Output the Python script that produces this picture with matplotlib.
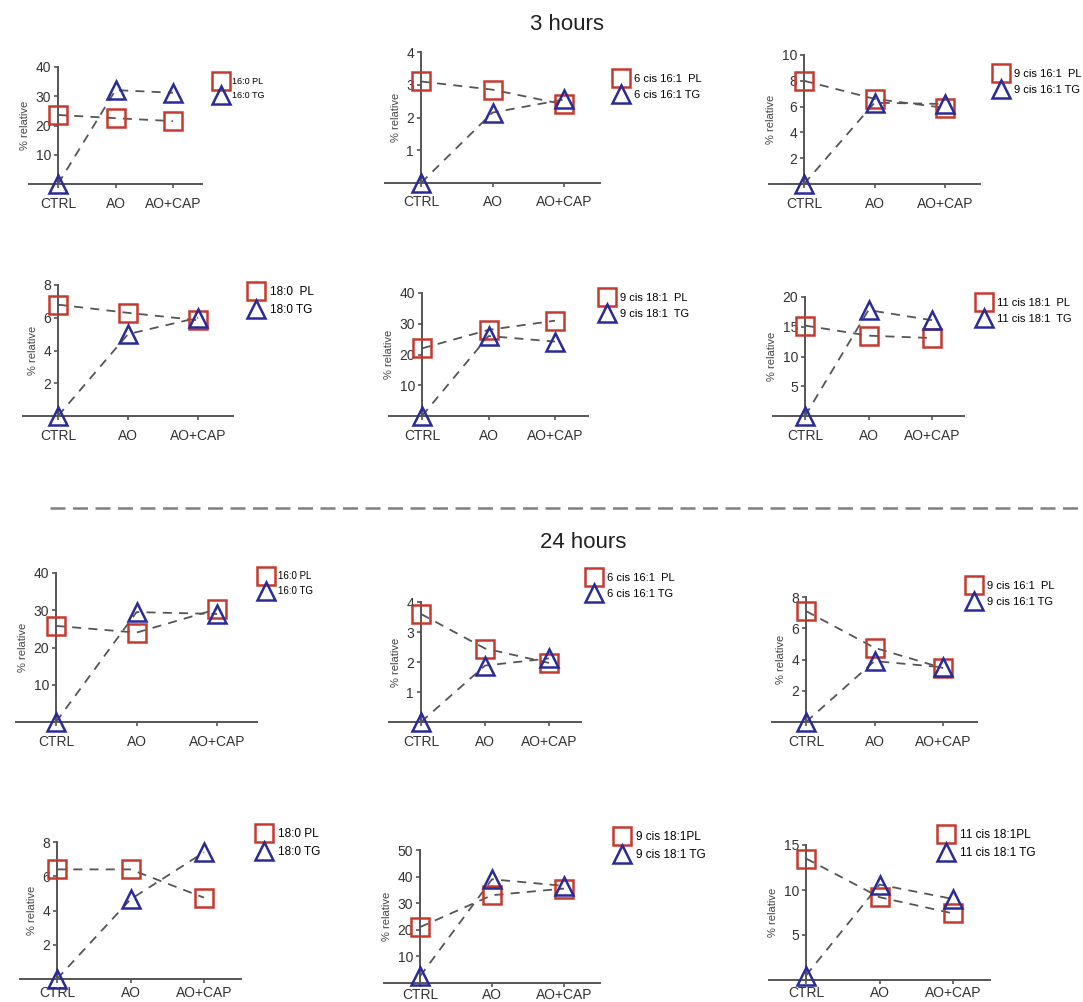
import numpy as np
import matplotlib.pyplot as plt
from matplotlib.lines import Line2D

plt.rcParams['font.family'] = ['Liberation Sans', 'DejaVu Sans']

groups = ["CTRL", "AO", "AO+CAP"]

# ── 3 hours ──────────────────────────────────────────────
pl_160_3h = [23.6, 22.5, 21.5]
tg_160_3h = [0, 32.1, 31.2]
pl_6c161_3h = [3.1, 2.85, 2.4]
tg_6c161_3h = [0, 2.15, 2.55]
pl_9c161_3h = [8.0, 6.6, 5.9]
tg_9c161_3h = [0, 6.3, 6.2]
pl_180_3h = [6.8, 6.3, 5.85]
tg_180_3h = [0, 5.0, 6.0]
pl_9c181_3h = [22, 28, 31]
tg_9c181_3h = [0, 26, 24.2]
pl_11c181_3h = [15.2, 13.5, 13.1]
tg_11c181_3h = [0, 17.8, 16.1]

# ── 24 hours ─────────────────────────────────────────────
pl_160_24h = [25.8, 24.0, 30.3]
tg_160_24h = [0, 29.5, 29.0]
pl_6c161_24h = [3.6, 2.45, 1.97]
tg_6c161_24h = [0, 1.88, 2.12]
pl_9c161_24h = [7.1, 4.75, 3.45]
tg_9c161_24h = [0, 3.9, 3.5]
pl_180_24h = [6.4, 6.4, 4.75]
tg_180_24h = [0, 4.65, 7.4]
pl_9c181_24h = [21, 33, 35.5]
tg_9c181_24h = [2.5, 39, 36.5]
pl_11c181_24h = [13.5, 9.2, 7.4]
tg_11c181_24h = [0.5, 10.6, 9.0]

panels = [
    (pl_160_3h, tg_160_3h, "16:0 PL", "16:0 TG", 40, 10),
    (pl_6c161_3h, tg_6c161_3h, "6 cis 16:1  PL", "6 cis 16:1 TG", 4, 1),
    (pl_9c161_3h, tg_9c161_3h, "9 cis 16:1  PL", "9 cis 16:1 TG", 10, 2),
    (pl_180_3h, tg_180_3h, "18:0  PL", "18:0 TG", 8, 2),
    (pl_9c181_3h, tg_9c181_3h, "9 cis 18:1  PL", "9 cis 18:1  TG", 40, 10),
    (pl_11c181_3h, tg_11c181_3h, "11 cis 18:1  PL", "11 cis 18:1  TG", 20, 5),
    (pl_160_24h, tg_160_24h, "16:0 PL", "16:0 TG", 40, 10),
    (pl_6c161_24h, tg_6c161_24h, "6 cis 16:1  PL", "6 cis 16:1 TG", 4, 1),
    (pl_9c161_24h, tg_9c161_24h, "9 cis 16:1  PL", "9 cis 16:1 TG", 8, 2),
    (pl_180_24h, tg_180_24h, "18:0 PL", "18:0 TG", 8, 2),
    (pl_9c181_24h, tg_9c181_24h, "9 cis 18:1PL", "9 cis 18:1 TG", 50, 10),
    (pl_11c181_24h, tg_11c181_24h, "11 cis 18:1PL", "11 cis 18:1 TG", 15, 5),
]

# layout in pixels: CTRL x, AO+CAP x, y of zero, y of top tick,
# legend marker x, legend first row y, legend font size, x label pad
layout = [
    (58, 173, 184, 67, 224, 86, 6.5, 6),
    (421, 564, 183, 52, 622, 83, 8, 6),
    (804, 945, 184, 55, 1002, 78, 8, 6),
    (58, 198, 416, 285, 257, 295, 8.5, 6),
    (422, 555, 416, 293, 608, 302, 8, 6),
    (805, 932, 416, 297, 985, 307, 8, 6),
    (56, 217, 722, 573, 268, 580, 7, 6),
    (421, 549, 722, 602, 595, 582, 8, 6),
    (806, 943, 722, 597, 975, 590, 8, 6),
    (57, 204, 979, 842, 265, 837, 8.5, 2),
    (420, 564, 983, 850, 623, 840, 8.5, 0.5),
    (806, 953, 980, 845, 947, 838, 8.5, 1.5),
]

RED = "#c53a2f"
BLUE = "#2b2b98"
GREY = "#555555"

W, H = 1083, 1002
fig = plt.figure(figsize=(W / 100, H / 100), dpi=100)
x = np.arange(len(groups))

for (pl, tg, pl_lab, tg_lab, ymax, ystep), (cx, capx, y0, ytop, lx, ly, lfs, xpad) in zip(panels, layout):
    sp = (capx - cx) / 2
    ax = fig.add_axes([(cx - 0.5 * sp) / W, 1 - y0 / H, 3 * sp / W, (y0 - ytop) / H])

    ax.plot(x, pl, ls=(0, (5, 4)), color=GREY, lw=1.3, zorder=1)
    ax.plot(x, tg, ls=(0, (5, 4)), color=GREY, lw=1.3, zorder=1)
    ax.plot(x, pl, ls="none", marker="s", ms=12.5, mfc="none", mec=RED,
            mew=1.8, clip_on=False, zorder=3, label=pl_lab)
    ax.plot(x, tg, ls="none", marker="^", ms=13, mfc="none", mec=BLUE,
            mew=1.8, clip_on=False, zorder=3, label=tg_lab)

    ax.set_xlim(-0.5, 2.5)
    ax.set_ylim(0, ymax)
    for s in ["top", "right"]:
        ax.spines[s].set_visible(False)
    ax.spines["left"].set_position(("data", 0))
    for s in ["left", "bottom"]:
        ax.spines[s].set_color(GREY)
        ax.spines[s].set_linewidth(1.4)

    ax.set_xticks(x, groups)
    ax.set_yticks(np.arange(ystep, ymax + ystep / 2, ystep))
    ax.tick_params(axis="both", length=3, width=1.2, color=GREY,
                   labelsize=10, labelcolor="#333333")
    ax.tick_params(axis="x", pad=xpad)
    ax.tick_params(axis="y", pad=2)
    ax.set_ylabel("% relative", fontsize=8, color="#444444", labelpad=4)

    ax.legend(loc="upper left", bbox_to_anchor=((lx - 8) / W, 1 - (ly - 9) / H),
              bbox_transform=fig.transFigure, frameon=False, fontsize=lfs,
              handlelength=1.2, handletextpad=0.6, labelspacing=0.55,
              borderpad=0, borderaxespad=0, markerscale=1.0)

fig.text(567 / W, 1 - 25 / H, "3 hours", ha="center", va="center", fontsize=16, color="#222222")
fig.text(583 / W, 1 - 542 / H, "24 hours", ha="center", va="center", fontsize=16, color="#222222")
fig.add_artist(Line2D([50 / W, 1], [1 - 508 / H, 1 - 508 / H], transform=fig.transFigure,
                      ls=(0, (6, 3)), color="#808080", lw=1.8))

fig.savefig("out.png", dpi=100)
